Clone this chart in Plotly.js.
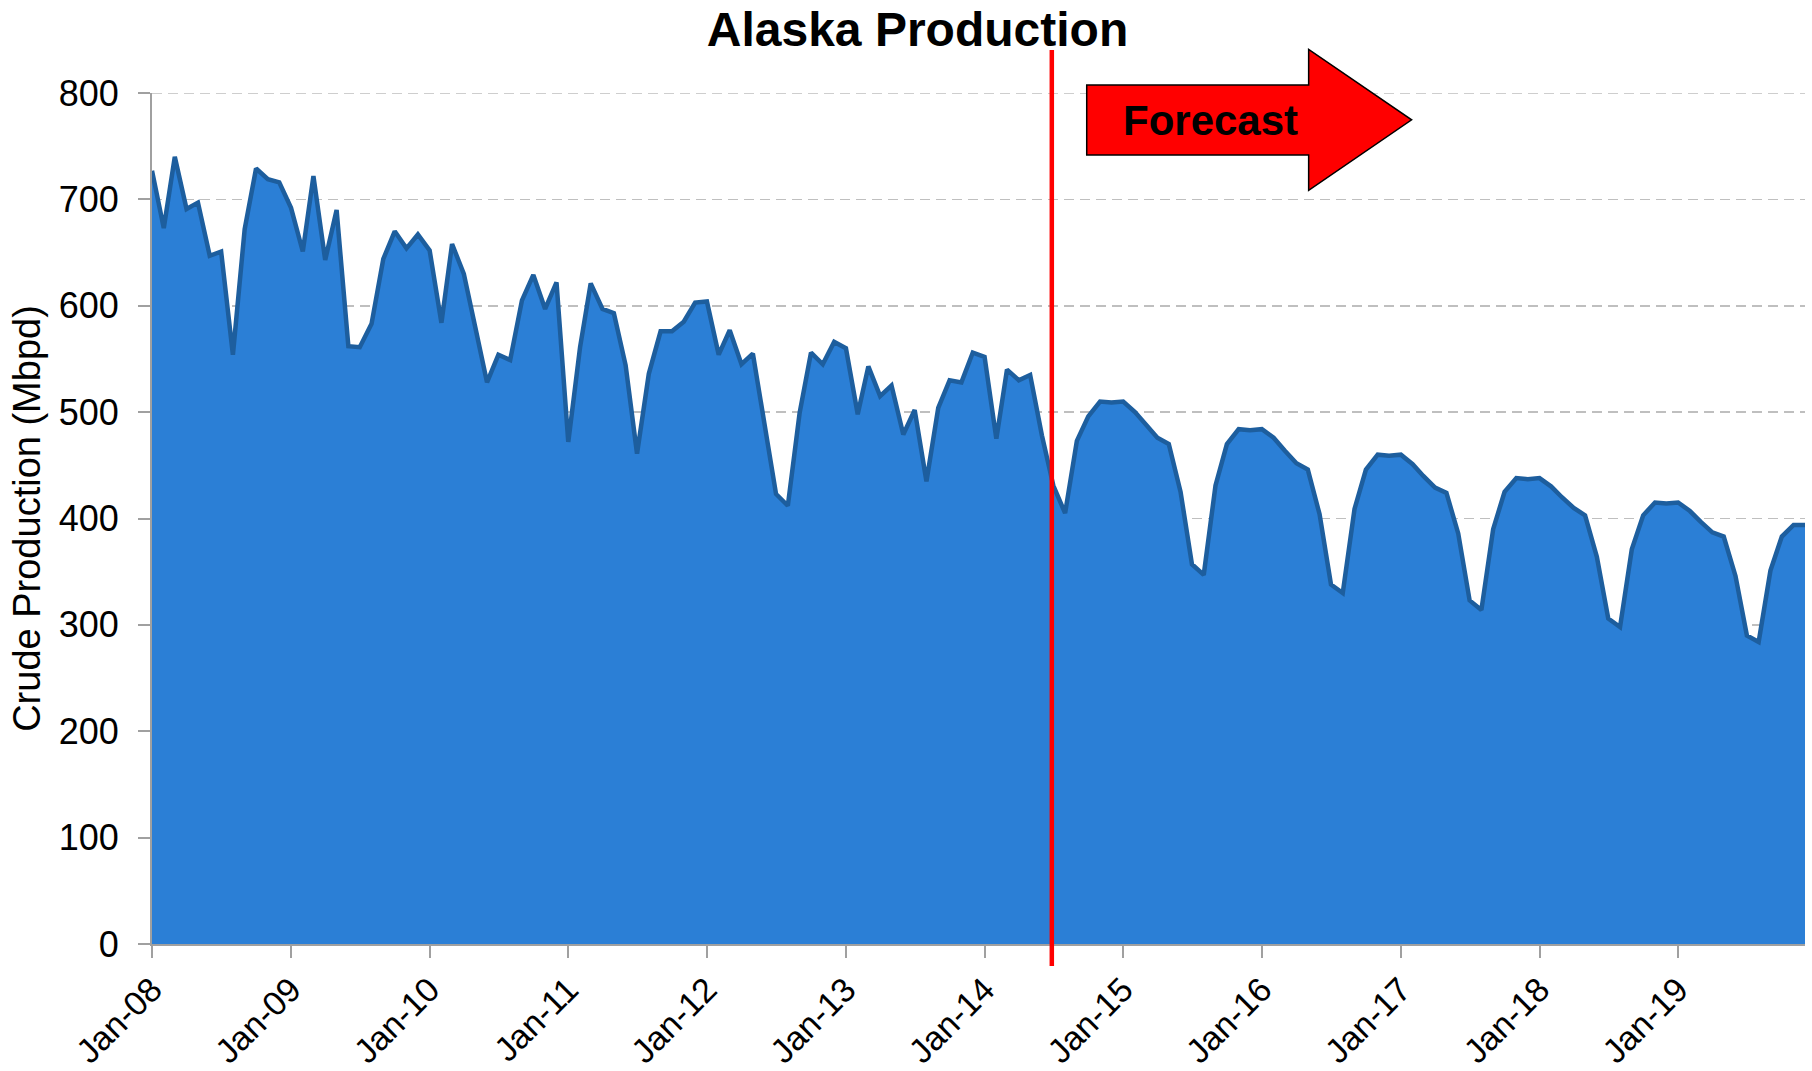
<!DOCTYPE html>
<html>
<head>
<meta charset="utf-8">
<script src="https://cdn.plot.ly/plotly-3.0.1.min.js"></script>
<style>
  html, body { margin: 0; padding: 0; background: #ffffff; }
  #chart { width: 1812px; height: 1071px; }
</style>
</head>
<body>
<div id="chart"></div>
<script>
// Monthly Alaska crude production (Mbpd), January to December of each year
const years = [2008, 2009, 2010, 2011, 2012, 2013, 2014, 2015, 2016, 2017, 2018, 2019];
const prod2008 = [727, 673, 740, 691, 697, 647, 651, 554, 672, 729, 719, 716];
const prod2009 = [692, 651, 722, 643, 690, 562, 561, 583, 644, 670, 654, 667];
const prod2010 = [652, 584, 658, 630, 580, 528, 554, 549, 605, 629, 597, 622];
const prod2011 = [472, 561, 621, 597, 593, 544, 461, 536, 576, 576, 585, 603];
const prod2012 = [604, 554, 577, 545, 555, 486, 423, 412, 499, 556, 545, 566];
const prod2013 = [560, 498, 543, 515, 525, 479, 502, 435, 504, 530, 528, 556];
const prod2014 = [552, 475, 540, 530, 535, 478, 431, 405, 473, 496, 510, 509];
const prod2015 = [510, 500, 488, 476, 470, 425, 357, 347, 431, 470, 484, 483];
const prod2016 = [484, 476, 464, 452, 446, 404, 338, 330, 409, 446, 460, 459];
const prod2017 = [460, 451, 440, 429, 424, 386, 323, 314, 390, 425, 438, 437];
const prod2018 = [438, 430, 420, 410, 403, 364, 306, 298, 371, 403, 415, 414];
const prod2019 = [415, 407, 397, 387, 383, 346, 290, 284, 351, 383, 394, 394];
const productionByYear = [prod2008, prod2009, prod2010, prod2011, prod2012, prod2013,
                          prod2014, prod2015, prod2016, prod2017, prod2018, prod2019];

// Start of the forecast period
const forecastStart = '2014-06-27';
const forecastLabel = 'Forecast';
const chartTitle = 'Alaska Production';
const yAxisTitle = 'Crude Production (Mbpd)';
const yMax = 800;

// Flatten into one monthly series
const months = [];
const production = [];
years.forEach((yr, k) => {
  productionByYear[k].forEach((v, m) => {
    months.push(yr + '-' + String(m + 1).padStart(2, '0') + '-01');
    production.push(v);
  });
});

// Plot-area geometry in page pixels
const W = 1812, H = 1071;
const L = 151.5, R = 1805, T = 92.5, B = 944;
const px = x => (x - L) / (R - L);
const py = y => (B - y) / (B - T);

// Block arrow beside the forecast marker
const arrowPts = [
  [1086.5, 84.4], [1308.5, 84.4], [1308.5, 48.8], [1411.5, 119.3],
  [1308.5, 190], [1308.5, 154.5], [1086.5, 154.5]
];
const arrowPath = 'M ' + arrowPts.map(p => px(p[0]).toFixed(5) + ',' + py(p[1]).toFixed(5)).join(' L ') + ' Z';

const font = 'Liberation Sans, Arial, sans-serif';
const gridColor = '#BFBFBF';

const trace = {
  type: 'scatter',
  mode: 'lines',
  x: months,
  y: production,
  fill: 'tozeroy',
  fillcolor: '#2B7FD6',
  line: { color: '#1D5E9E', width: 4.5, shape: 'linear' },
  hoverinfo: 'x+y'
};

const layout = {
  width: W,
  height: H,
  margin: { l: L, r: W - R, t: T, b: H - B, pad: 0 },
  paper_bgcolor: '#ffffff',
  plot_bgcolor: '#ffffff',
  showlegend: false,
  font: { family: font, color: '#000000', size: 36 },
  title: {
    text: '<b>' + chartTitle + '</b>',
    font: { family: font, size: 48, color: '#000000' },
    xref: 'container', x: 917.5 / W, xanchor: 'center',
    yref: 'container', y: 1 - 29 / H, yanchor: 'middle'
  },
  xaxis: {
    type: 'date',
    range: ['2008-01-01', '2019-12-01'],
    tick0: '2008-01-01',
    dtick: 'M12',
    tickformat: '%b-%y',
    tickangle: -45,
    showgrid: false,
    zeroline: false,
    showline: true,
    linecolor: '#A0A0A0',
    linewidth: 2,
    ticks: 'outside',
    ticklen: 12,
    tickwidth: 2,
    tickcolor: '#A0A0A0',
    ticklabelstandoff: -2,
    tickfont: { family: font, size: 34, color: '#000000' },
    fixedrange: true
  },
  yaxis: {
    range: [0, yMax],
    dtick: 100,
    tick0: 0,
    showgrid: true,
    gridcolor: gridColor,
    gridwidth: 1.5,
    griddash: '10px,6px',
    zeroline: false,
    showline: true,
    linecolor: '#A0A0A0',
    linewidth: 2,
    ticks: 'outside',
    ticklen: 12,
    tickwidth: 2,
    tickcolor: '#A0A0A0',
    ticklabelstandoff: 12,
    tickfont: { family: font, size: 36, color: '#000000' },
    title: {
      text: yAxisTitle,
      font: { family: font, size: 38, color: '#000000' },
      standoff: 6
    },
    fixedrange: true
  },
  shapes: [
    // dashed gridline along the top of the value axis
    {
      type: 'line', layer: 'below',
      xref: 'paper', yref: 'y',
      x0: 0, x1: 1, y0: yMax, y1: yMax,
      line: { color: gridColor, width: 1.5, dash: '10px,6px' }
    },
    {
      type: 'line', layer: 'above',
      xref: 'x', yref: 'paper',
      x0: forecastStart, x1: forecastStart,
      y0: py(966), y1: py(49.5),
      line: { color: '#FF0000', width: 4.5 }
    },
    {
      type: 'path', layer: 'above',
      xref: 'paper', yref: 'paper',
      path: arrowPath,
      fillcolor: '#FF0000',
      line: { color: '#000000', width: 1.5 }
    }
  ],
  annotations: [
    {
      xref: 'paper', yref: 'paper',
      x: px(1210), y: py(120),
      xanchor: 'center', yanchor: 'middle',
      text: '<b>' + forecastLabel + '</b>',
      showarrow: false,
      font: { family: font, size: 42, color: '#000000' }
    }
  ]
};

Plotly.newPlot('chart', [trace], layout, { displayModeBar: false, staticPlot: true });
</script>
</body>
</html>
